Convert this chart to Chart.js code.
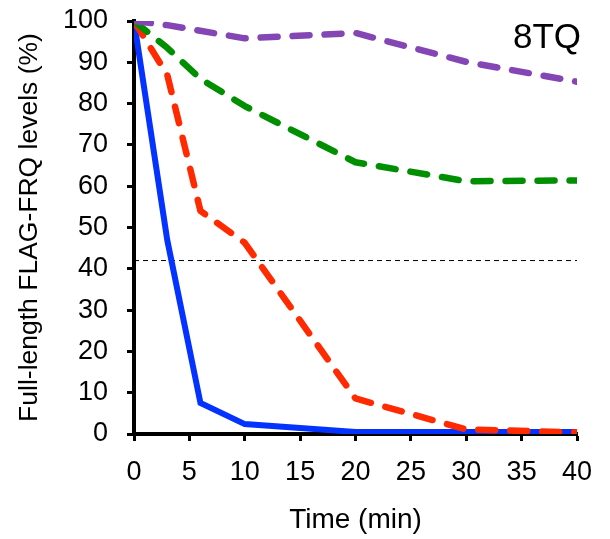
<!DOCTYPE html>
<html>
<head>
<meta charset="utf-8">
<script src="https://cdn.jsdelivr.net/npm/chart.js@4/dist/chart.umd.min.js"></script>
<style>
  html, body { margin: 0; padding: 0; background: #fff; }
  #wrap { width: 610px; height: 539px; }
</style>
</head>
<body>
<div id="wrap"><canvas id="decayChart" width="610" height="539"></canvas></div>
<script>
// Sampling times (min)
const timePoints = [0, 3, 6, 10, 20, 30, 40];
const purpleTimes = [0, 3, 10, 20, 30, 40];

// Full-length FLAG-FRQ levels (%)
const blueLevels = [100, 47, 7.5, 2.4, 0.5, 0.5, 0.5];
const redLevels = [100, 87, 54, 46.3, 8.6, 1.1, 0.4];
const greenLevels = [100, 93.5, 86, 79.4, 65.8, 61.2, 61.4];
const purpleLevels = [100, 99, 95.8, 97.1, 90.1, 85.3];

// Threshold (dashed black line)
const cutoffTimes = [0, 40];
const cutoffLevels = [42, 42];

// Tick labels
const xTicks = [0, 5, 10, 15, 20, 25, 30, 35, 40];
const yTicks = [0, 10, 20, 30, 40, 50, 60, 70, 80, 90, 100];

const panelLabel = '8TQ';
const xTitle = 'Time (min)';
const yTitle = 'Full-length FLAG-FRQ levels (%)';

const FONT = '"Liberation Sans", Arial, Helvetica, sans-serif';

function toPoints(xs, ys) {
    return xs.map((x, i) => ({ x: x, y: ys[i] }));
}

// Panel label in the top right corner
const panelLabelPlugin = {
    id: 'panelLabel',
    afterDraw(chart) {
        const ctx = chart.ctx;
        const area = chart.chartArea;
        ctx.save();
        ctx.font = '35px ' + FONT;
        ctx.fillStyle = '#000';
        ctx.textAlign = 'right';
        ctx.textBaseline = 'alphabetic';
        ctx.fillText(panelLabel, area.right + 4, area.top + 27);
        ctx.restore();
    }
};

const dashed = {
    borderWidth: 6.5,
    borderDash: [17, 15],
    borderCapStyle: 'round',
    borderJoinStyle: 'round',
    pointRadius: 0,
    fill: false,
    tension: 0
};

const chartConfig = {
    type: 'line',
    data: {
        datasets: [
            Object.assign({ label: 'purple', data: toPoints(purpleTimes, purpleLevels), borderColor: '#8446B4' }, dashed),
            Object.assign({ label: 'green', data: toPoints(timePoints, greenLevels), borderColor: '#008F00' }, dashed),
            Object.assign({ label: 'red', data: toPoints(timePoints, redLevels), borderColor: '#FF2A00' }, dashed),
            {
                label: 'blue',
                data: toPoints(timePoints, blueLevels),
                borderColor: '#0433FF',
                borderWidth: 6,
                borderJoinStyle: 'miter',
                pointRadius: 0,
                fill: false,
                tension: 0
            },
            {
                label: 'cutoff',
                data: toPoints(cutoffTimes, cutoffLevels),
                borderColor: '#000',
                borderWidth: 1,
                borderDash: [5, 4],
                pointRadius: 0,
                fill: false
            }
        ]
    },
    options: {
        responsive: false,
        animation: false,
        devicePixelRatio: 1,
        layout: { padding: { top: 21, right: 33, left: 0, bottom: 0 } },
        plugins: {
            legend: { display: false },
            tooltip: { enabled: false }
        },
        scales: {
            x: {
                type: 'linear',
                min: 0,
                max: 40,
                afterBuildTicks: scale => { scale.ticks = xTicks.map(v => ({ value: v })); },
                afterFit: scale => {
                    scale.height = 105;
                    scale.paddingLeft = 0;
                    scale.paddingRight = 0;
                },
                border: { display: true, color: '#000', width: 4 },
                grid: {
                    drawOnChartArea: false,
                    drawTicks: true,
                    tickLength: 7,
                    tickWidth: 3,
                    tickColor: '#000'
                },
                ticks: {
                    color: '#000',
                    padding: 15,
                    maxRotation: 0,
                    font: { family: FONT, size: 27 }
                },
                title: {
                    display: true,
                    text: xTitle,
                    color: '#000',
                    padding: { top: 0, bottom: 2 },
                    font: { family: FONT, size: 28 }
                }
            },
            y: {
                min: 0,
                max: 100,
                afterBuildTicks: scale => { scale.ticks = yTicks.map(v => ({ value: v })); },
                afterFit: scale => {
                    scale.width = 134;
                    scale.paddingTop = 0;
                    scale.paddingBottom = 0;
                },
                border: { display: true, color: '#000', width: 4 },
                grid: {
                    drawOnChartArea: false,
                    drawTicks: true,
                    tickLength: 7,
                    tickWidth: 3,
                    tickColor: '#000'
                },
                ticks: {
                    color: '#000',
                    padding: 19,
                    font: { family: FONT, size: 27 }
                },
                title: {
                    display: true,
                    text: yTitle,
                    color: '#000',
                    padding: { top: 13.5, bottom: 0 },
                    font: { family: FONT, size: 26.5 }
                }
            }
        }
    },
    plugins: [panelLabelPlugin]
};

const ctx = document.getElementById('decayChart').getContext('2d');
const chart = new Chart(ctx, chartConfig);
</script>
</body>
</html>
